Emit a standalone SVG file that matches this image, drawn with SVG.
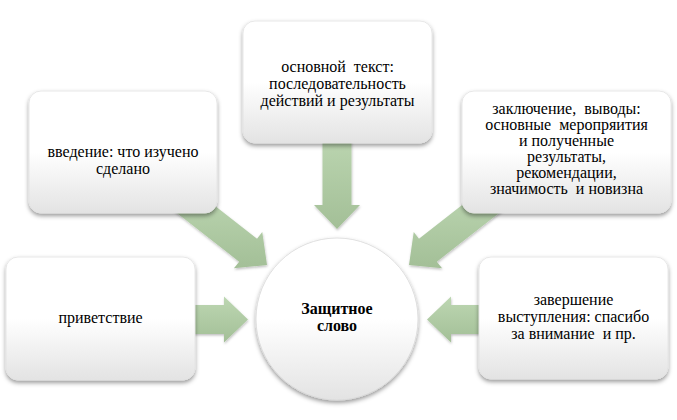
<svg xmlns="http://www.w3.org/2000/svg" width="677" height="420" viewBox="0 0 677 420">
<defs>
<linearGradient id="boxg" x1="0" y1="0" x2="0" y2="1">
<stop offset="0" stop-color="#ffffff"/>
<stop offset="0.5" stop-color="#ffffff"/>
<stop offset="1" stop-color="#e3e3e3"/>
</linearGradient>
<linearGradient id="arrg" x1="0" y1="0" x2="0" y2="1">
<stop offset="0" stop-color="#bdd7b2"/>
<stop offset="1" stop-color="#a3bf97"/>
</linearGradient>
<filter id="sh" x="-10%" y="-10%" width="120%" height="130%">
<feDropShadow dx="0" dy="2.5" stdDeviation="2" flood-color="#000" flood-opacity="0.4"/>
</filter>
<filter id="ash" x="-10%" y="-10%" width="130%" height="130%">
<feDropShadow dx="0.5" dy="1.5" stdDeviation="1.2" flood-color="#000" flood-opacity="0.25"/>
</filter>
</defs>
<style>
.box{fill:url(#boxg);stroke:#e2e2e2;stroke-width:0.8;filter:url(#sh)}
.arr{fill:url(#arrg);filter:url(#ash)}
.t{font-family:'Liberation Serif','Times New Roman',serif;font-size:16px;fill:#000;text-anchor:middle}
.b{font-weight:bold}
</style>
<rect width="677" height="420" fill="#ffffff"/>
<g id="connectors">
<path class="arr" d="M188,305 L224,305 L224,296.5 L248,319.5 L224,342.5 L224,334 L188,334 Z"/>
<path class="arr" d="M487,305 L451,305 L451,296.5 L427,319.5 L451,342.5 L451,334 L487,334 Z"/>
<path class="arr" d="M351.5,129 L351.5,205 L360,205 L337,229 L314,205 L322.5,205 L322.5,129 Z"/>
<path class="arr" d="M189.25,185.81 L257.02,238.79 L262.26,232.1 L267,265 L233.92,268.34 L239.16,261.65 L171.39,208.67 Z"/>
<path class="arr" d="M504.61,208.67 L436.84,261.65 L442.08,268.34 L409,265 L413.74,232.1 L418.98,238.79 L486.75,185.81 Z"/>
</g>
<g id="intro">
<rect class="box" x="29" y="91" width="188" height="122" rx="12"/>
<text class="t" x="123" y="157">введение: что изучено</text>
<text class="t" x="123" y="174">сделано</text>
</g>
<g id="main">
<rect class="box" x="243" y="21" width="189" height="122" rx="12"/>
<text class="t" x="337.5" y="72" xml:space="preserve">основной  текст:</text>
<text class="t" x="337.5" y="89">последовательность</text>
<text class="t" x="337.5" y="106">действий и результаты</text>
</g>
<g id="conclusion">
<rect class="box" x="462" y="91" width="209" height="122" rx="12"/>
<text class="t" x="566.5" y="114" xml:space="preserve">заключение,  выводы:</text>
<text class="t" x="566.5" y="130" xml:space="preserve">основные  меропряития</text>
<text class="t" x="566.5" y="146">и полученные</text>
<text class="t" x="566.5" y="162">результаты,</text>
<text class="t" x="566.5" y="178">рекомендации,</text>
<text class="t" x="566.5" y="194" xml:space="preserve">значимость  и новизна</text>
</g>
<g id="greeting">
<rect class="box" x="6" y="257" width="189" height="123" rx="12"/>
<text class="t" x="100.5" y="323">приветствие</text>
</g>
<g id="ending">
<rect class="box" x="479" y="257" width="189" height="122" rx="12"/>
<text class="t" x="573.5" y="305">завершение</text>
<text class="t" x="573.5" y="322">выступления: спасибо</text>
<text class="t" x="573.5" y="339" xml:space="preserve">за внимание  и пр.</text>
</g>
<g id="center">
<circle class="box" cx="337" cy="319" r="81" style="stroke:#d9d9d9"/>
<text class="t b" x="337" y="314">Защитное</text>
<text class="t b" x="337" y="331">слово</text>
</g>
</svg>
